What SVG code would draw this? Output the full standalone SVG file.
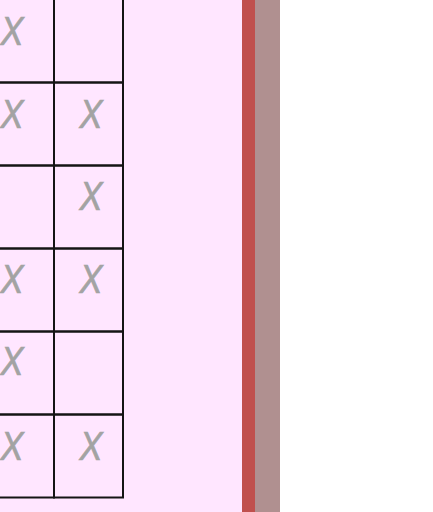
<svg xmlns="http://www.w3.org/2000/svg" width="433" height="512" viewBox="0 0 433 512">
<style>
.cell{fill:none;stroke:#141414;stroke-width:2}
.x{font-family:"Liberation Sans",Arial,sans-serif;font-style:italic;font-size:40px;fill:#a3a3a3;stroke:#a3a3a3;stroke-width:0.7;text-anchor:middle}
</style>
<rect x="0" y="0" width="433" height="512" fill="#ffffff"/>
<rect x="0" y="0" width="242" height="512" fill="#ffe6ff"/>
<rect x="242" y="0" width="13" height="512" fill="#c0504d"/>
<rect x="255" y="0" width="25" height="512" fill="#b09090"/>
<g id="grid">
<rect class="cell" x="-25" y="-1" width="79" height="83.5"/>
<rect class="cell" x="54" y="-1" width="69" height="83.5"/>
<rect class="cell" x="-25" y="82.5" width="79" height="83"/>
<rect class="cell" x="54" y="82.5" width="69" height="83"/>
<rect class="cell" x="-25" y="165.5" width="79" height="83"/>
<rect class="cell" x="54" y="165.5" width="69" height="83"/>
<rect class="cell" x="-25" y="248.5" width="79" height="83"/>
<rect class="cell" x="54" y="248.5" width="69" height="83"/>
<rect class="cell" x="-25" y="331.5" width="79" height="83"/>
<rect class="cell" x="54" y="331.5" width="69" height="83"/>
<rect class="cell" x="-25" y="414.5" width="79" height="83"/>
<rect class="cell" x="54" y="414.5" width="69" height="83"/>
</g>
<g id="marks">
<text class="x" x="12" y="45" textLength="23" lengthAdjust="spacingAndGlyphs">X</text>
<text class="x" x="12" y="128" textLength="23" lengthAdjust="spacingAndGlyphs">X</text>
<text class="x" x="91" y="128" textLength="23" lengthAdjust="spacingAndGlyphs">X</text>
<text class="x" x="91" y="210" textLength="23" lengthAdjust="spacingAndGlyphs">X</text>
<text class="x" x="12" y="293" textLength="23" lengthAdjust="spacingAndGlyphs">X</text>
<text class="x" x="91" y="293" textLength="23" lengthAdjust="spacingAndGlyphs">X</text>
<text class="x" x="12" y="375" textLength="23" lengthAdjust="spacingAndGlyphs">X</text>
<text class="x" x="12" y="460" textLength="23" lengthAdjust="spacingAndGlyphs">X</text>
<text class="x" x="91" y="460" textLength="23" lengthAdjust="spacingAndGlyphs">X</text>
</g>
</svg>
